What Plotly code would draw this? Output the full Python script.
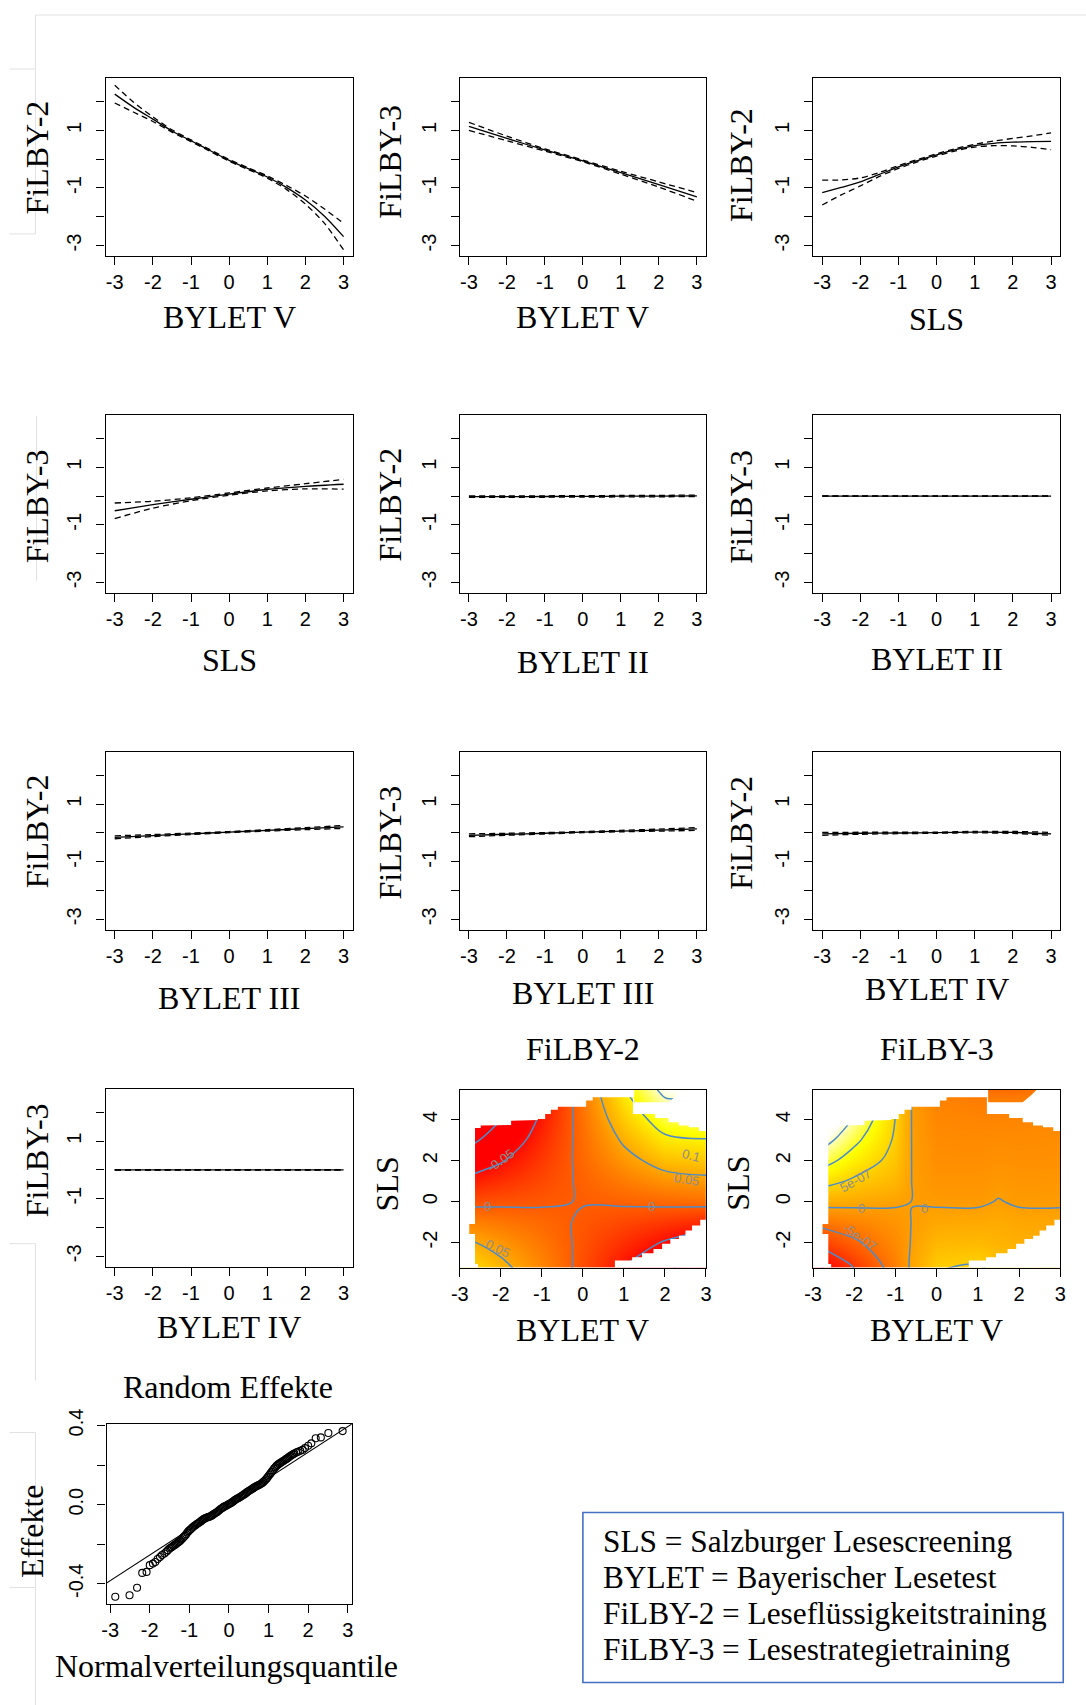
import plotly.graph_objects as go

W, H = 1086, 1705
# the page is photographed slightly scaled and offset; positions below are given in
# reference pixels and converted to paper space with this measured mapping
SX, BX = 0.9855, 8.5
SY, BY = 0.9915, 14.0

# ------------------------------------------------------------------ data
X13 = [-3, -2.5, -2, -1.5, -1, -0.5, 0, 0.5, 1, 1.5, 2, 2.5, 3]
X7 = [-3, -2, -1, 0, 1, 2, 3]

# FiLBY-2 ~ BYLET V
p1_fit = [2.26, 1.80, 1.39, 0.98, 0.64, 0.30, -0.04, -0.33, -0.62, -0.98, -1.42, -1.98, -2.69]
p1_up = [2.57, 1.97, 1.47, 1.02, 0.67, 0.33, -0.01, -0.30, -0.58, -0.91, -1.28, -1.73, -2.23]
p1_lo = [1.95, 1.63, 1.31, 0.94, 0.61, 0.27, -0.07, -0.36, -0.66, -1.05, -1.56, -2.23, -3.15]
# FiLBY-3 ~ BYLET V
p2_fit = [1.14, 0.72, 0.32, -0.06, -0.47, -0.88, -1.31]
p2_up = [1.28, 0.80, 0.36, -0.03, -0.42, -0.79, -1.16]
p2_lo = [1.00, 0.64, 0.28, -0.09, -0.52, -0.97, -1.46]
# FiLBY-2 ~ SLS
p3_fit = [-1.16, -0.98, -0.79, -0.53, -0.27, -0.05, 0.15, 0.33, 0.47, 0.55, 0.59, 0.61, 0.62]
p3_up = [-0.73, -0.72, -0.65, -0.46, -0.22, -0.01, 0.19, 0.37, 0.52, 0.63, 0.72, 0.81, 0.91]
p3_lo = [-1.59, -1.24, -0.93, -0.60, -0.32, -0.09, 0.11, 0.29, 0.42, 0.47, 0.46, 0.41, 0.33]
# FiLBY-3 ~ SLS
p4_fit = [-0.51, -0.30, -0.11, 0.07, 0.23, 0.34, 0.41]
p4_up = [-0.24, -0.18, -0.06, 0.11, 0.28, 0.43, 0.58]
p4_lo = [-0.78, -0.42, -0.16, 0.03, 0.18, 0.25, 0.24]
# FiLBY-2 ~ BYLET II
p5_fit = [-0.02, -0.02, -0.015, -0.01, -0.005, 0.0, 0.01]
p5_up = [0.005, 0.005, 0.01, 0.015, 0.02, 0.025, 0.035]
p5_lo = [-0.045, -0.045, -0.04, -0.035, -0.03, -0.025, -0.015]
# FiLBY-3 ~ BYLET II
p6_fit = [0, 0, 0, 0, 0, 0, 0]
p6_up = [0.005, 0.005, 0.005, 0.005, 0.005, 0.005, 0.005]
p6_lo = [-0.005, -0.005, -0.005, -0.005, -0.005, -0.005, -0.005]
# FiLBY-2 ~ BYLET III
p7_fit = [-0.15, -0.09, -0.03, 0.03, 0.09, 0.15, 0.21]
p7_up = [-0.10, -0.055, -0.005, 0.05, 0.115, 0.185, 0.26]
p7_lo = [-0.20, -0.125, -0.055, 0.01, 0.065, 0.115, 0.16]
# FiLBY-3 ~ BYLET III
p8_fit = [-0.08, -0.045, -0.01, 0.03, 0.065, 0.10, 0.14]
p8_up = [-0.03, -0.01, 0.015, 0.05, 0.09, 0.135, 0.19]
p8_lo = [-0.13, -0.08, -0.035, 0.01, 0.04, 0.065, 0.09]
# FiLBY-2 ~ BYLET IV
p9_fit = [-0.03, -0.01, 0.0, 0.01, 0.03, 0.02, -0.03]
p9_up = [0.02, 0.025, 0.025, 0.03, 0.055, 0.055, 0.02]
p9_lo = [-0.08, -0.045, -0.025, -0.01, 0.005, -0.015, -0.08]
# FiLBY-3 ~ BYLET IV
p10_fit = [0, 0, 0, 0, 0, 0, 0]
p10_up = [0.005, 0.005, 0.005, 0.005, 0.005, 0.005, 0.005]
p10_lo = [-0.005, -0.005, -0.005, -0.005, -0.005, -0.005, -0.005]

Y_TICKVALS = [-3, -2, -1, 0, 1, 2]
Y_TICKTEXT = ["-3", "", "-1", "", "1", ""]
X_TICKVALS = [-3, -2, -1, 0, 1, 2, 3]
X_TICKTEXT = ["-3", "-2", "-1", "0", "1", "2", "3"]

# interaction surfaces (BYLET V x SLS)
hm_y = [-4, -3, -2, -1, 0, 1, 2, 3, 4, 5, 6]
hm2_x = [-3, -2, -1, 0, 1, 2, 3]
hm2_z = [
    [0.115, 0.075, 0.035, -0.013, -0.063, -0.114, -0.165],
    [0.085, 0.055, 0.026, -0.009, -0.046, -0.084, -0.121],
    [0.058, 0.038, 0.017, -0.006, -0.030, -0.053, -0.077],
    [0.026, 0.017, 0.008, -0.003, -0.013, -0.023, -0.033],
    [-0.009, -0.006, -0.003, 0.001, 0.004, 0.008, 0.011],
    [-0.046, -0.030, -0.013, 0.004, 0.021, 0.036, 0.042],
    [-0.083, -0.053, -0.023, 0.008, 0.038, 0.064, 0.070],
    [-0.121, -0.077, -0.033, 0.011, 0.055, 0.092, 0.098],
    [-0.158, -0.100, -0.043, 0.014, 0.072, 0.120, 0.128],
    [-0.195, -0.124, -0.053, 0.018, 0.089, 0.148, 0.158],
    [-0.232, -0.148, -0.063, 0.021, 0.106, 0.176, 0.188],
]
hm3_x = [-3, -2, -1, -0.6, 0, 1, 1.5, 2, 3]
hm3_z_e7 = [   # values in units of 1e-07
    [-21.4, -12.5, -3.8, 1.0, 6.0, 7.5, 5.5, 4.5, 3.0],
    [-15.6, -9.1, -2.8, 0.6, 4.0, 4.8, 3.5, 2.8, 2.0],
    [-9.8, -5.7, -1.8, 0.2, 2.4, 2.6, 2.0, 1.6, 1.2],
    [-4.1, -2.4, -0.9, 0.05, 0.9, 1.0, 1.2, 0.8, 0.6],
    [1.7, 1.0, 0.37, -0.02, -0.35, -0.4, 0.12, -0.3, -0.25],
    [7.4, 4.3, 2.4, -0.05, -1.0, -1.0, -0.6, -0.9, -0.8],
    [13.2, 7.7, 3.6, -0.08, -1.5, -1.5, -1.2, -1.4, -1.3],
    [19.0, 11.1, 4.4, -0.1, -1.8, -1.9, -1.7, -1.8, -1.6],
    [24.7, 14.4, 4.9, -0.12, -2.2, -2.4, -2.4, -2.3, -2.0],
    [30.5, 17.8, 5.3, -0.15, -2.6, -3.2, -3.3, -3.2, -2.6],
    [36.2, 21.1, 5.7, -0.18, -3.0, -6.3, -6.6, -6.3, -3.2],
]
# contour labels as printed in the maps: (x, y, text, angle)
hm2_labels = [(-2.0, 2.0, "-0.05", -35), (2.64, 2.24, "0.1", 15), (2.53, 1.06, "0.05", 10),
              (-2.32, -0.24, "0", 0), (1.68, -0.24, "0", 0), (-2.08, -2.31, "0.05", 25)]
hm3_labels = [(-1.97, 1.02, "5e-07", -30), (-1.83, -0.33, "0", 0), (-0.29, -0.33, "0", 0),
              (-1.85, -1.74, "-5e-07", 35)]
# region too far from the data (left blank in the maps)
mask_a_x = [-3.05, -2.56, -2.56, -2.63, -2.63, -2.77, -2.77, -2.63, -2.63, -2.49, -2.49, -2.24, -2.24,
            -1.75, -1.75, -1.55, -1.55, -1.10, -1.10, -0.92, -0.92, -0.78, -0.78, -0.61, -0.61, 0.08,
            0.08, 0.24, 0.24, 1.25, 1.25, -3.05]
mask_a_y = [-3.3, -3.3, -3.04, -3.04, -1.58, -1.58, -1.09, -1.09, 3.59, 3.59, 3.71, 3.71, 3.74,
            3.74, 3.95, 3.95, 3.98, 3.98, 4.03, 4.03, 4.27, 4.27, 4.48, 4.48, 4.63, 4.63,
            4.93, 4.93, 5.09, 5.09, 5.5, 5.5]
mask_b_x = [1.22, 1.22, 1.76, 1.76, 2.09, 2.09, 2.34, 2.34, 2.58, 2.58, 2.83, 2.83, 3.05, 3.05,
            2.45, 2.30, 2.09, 1.25, 1.25]
mask_b_y = [5.09, 4.27, 4.27, 4.08, 4.08, 3.87, 3.87, 3.71, 3.71, 3.63, 3.63, 3.45, 3.45, 5.5,
            5.5, 5.2, 4.85, 4.85, 5.09]
mask_c_x = [3.05, 2.86, 2.86, 2.66, 2.66, 2.50, 2.50, 2.34, 2.34, 2.13, 2.13, 1.93, 1.93, 1.72,
            1.72, 1.44, 1.44, 1.20, 1.20, 0.78, 0.78, 3.05]
mask_c_y = [-0.89, -0.89, -1.17, -1.17, -1.41, -1.41, -1.66, -1.66, -1.82, -1.82, -2.06, -2.06,
            -2.31, -2.31, -2.52, -2.52, -2.71, -2.71, -2.87, -2.87, -3.3, -3.3]

# QQ plot of random effects
qq_x = [-2.87, -2.51, -2.32, -2.19, -2.08, -2.0, -1.92, -1.86, -1.80, -1.74, -1.69, -1.63, -1.58, -1.54, -1.50,
        -1.47, -1.44, -1.41, -1.38, -1.35, -1.32, -1.29, -1.26, -1.23, -1.20, -1.17, -1.14, -1.11, -1.08,
        -1.05, -1.02, -0.99, -0.96, -0.93, -0.90, -0.87, -0.84, -0.81, -0.78, -0.75, -0.72, -0.69, -0.66,
        -0.63, -0.60, -0.57, -0.54, -0.51, -0.48, -0.45, -0.42, -0.39, -0.36, -0.33, -0.30, -0.27, -0.24,
        -0.21, -0.18, -0.15, -0.12, -0.09, -0.06, -0.03, 0.00, 0.03, 0.06, 0.09, 0.12, 0.15, 0.18, 0.21,
        0.24, 0.27, 0.30, 0.33, 0.36, 0.39, 0.42, 0.45, 0.48, 0.51, 0.54, 0.57, 0.60, 0.63, 0.66, 0.69,
        0.72, 0.75, 0.78, 0.81, 0.84, 0.87, 0.90, 0.93, 0.96, 0.99, 1.02, 1.05, 1.08, 1.11, 1.14, 1.17,
        1.20, 1.23, 1.26, 1.29, 1.32, 1.35, 1.38, 1.41, 1.44, 1.47, 1.50, 1.53, 1.56, 1.59, 1.62, 1.65,
        1.70, 1.74, 1.80, 1.86, 1.92, 2.00, 2.08, 2.19, 2.32, 2.51, 2.87]
qq_y = [-0.466, -0.458, -0.42, -0.345, -0.34, -0.306, -0.298, -0.29, -0.275, -0.265, -0.255, -0.247, -0.238, -0.23, -0.222,
        -0.218, -0.214, -0.209, -0.205, -0.201, -0.197, -0.192, -0.187, -0.182, -0.176, -0.170, -0.163, -0.157, -0.150,
        -0.141, -0.134, -0.128, -0.123, -0.117, -0.112, -0.107, -0.103, -0.098, -0.094, -0.090, -0.086, -0.081, -0.076,
        -0.072, -0.069, -0.066, -0.064, -0.062, -0.060, -0.057, -0.053, -0.049, -0.045, -0.041, -0.037, -0.032, -0.027,
        -0.022, -0.018, -0.014, -0.010, -0.007, -0.004, -0.001, 0.003, 0.006, 0.010, 0.014, 0.018, 0.023, 0.027, 0.031,
        0.034, 0.037, 0.041, 0.045, 0.049, 0.053, 0.057, 0.062, 0.066, 0.070, 0.074, 0.078, 0.082, 0.086, 0.089, 0.093,
        0.096, 0.099, 0.102, 0.106, 0.110, 0.115, 0.121, 0.127, 0.134, 0.142, 0.150, 0.158, 0.166, 0.174, 0.182, 0.189,
        0.196, 0.201, 0.206, 0.210, 0.214, 0.218, 0.222, 0.226, 0.230, 0.234, 0.238, 0.243, 0.247, 0.251, 0.255, 0.259,
        0.264, 0.267, 0.272, 0.277, 0.286, 0.298, 0.310, 0.336, 0.340, 0.362, 0.372]
qq_intercept = 0.005
qq_slope = 0.13

legend_lines = ["SLS = Salzburger Lesescreening",
                "BYLET = Bayerischer Lesetest",
                "FiLBY-2 = Leseflüssigkeitstraining",
                "FiLBY-3 = Lesestrategietraining"]

# ------------------------------------------------------------------ layout helpers
SERIF = "Liberation Serif, Times New Roman, serif"
SANS = "Liberation Sans, Arial, sans-serif"
TICKFONT = dict(family=SANS, size=20, color="black")
TITLE_SIZE = 32

COLS = {1: (105, 352), 2: (459, 705), 3: (812, 1059)}
ROWS = {1: (77, 255), 2: (414, 592), 3: (751, 929), 4: (1088, 1266)}


def fx(t):
    return max(0.0, (t - BX) / SX / W)


def fy(t):
    return min(1.0, 1 - (t - BY) / SY / H)


def dx(a, b):
    return [fx(a), fx(b)]


def dy(top, bottom):
    return [fy(bottom), fy(top)]


def base_axis():
    return dict(showgrid=False, zeroline=False, showline=True, linecolor="black", linewidth=1.2,
                mirror=True, ticks="outside", ticklen=8, tickwidth=1.2, tickcolor="black",
                tickfont=TICKFONT, fixedrange=True, layer="above traces")


fig = go.Figure()
layout = {}
annotations = []


def ann(text, xp, yp, size=TITLE_SIZE, angle=0, xanchor="center"):
    annotations.append(dict(text=text, x=fx(xp), y=fy(yp), xref="paper", yref="paper",
                            showarrow=False, textangle=angle, xanchor=xanchor, yanchor="middle",
                            font=dict(family=SERIF, size=size, color="black")))


def ax_names(i):
    return ("x" if i == 1 else f"x{i}", "y" if i == 1 else f"y{i}",
            "xaxis" if i == 1 else f"xaxis{i}", "yaxis" if i == 1 else f"yaxis{i}")


smooth_panels = [
    (1, 1, "FiLBY-2", "BYLET V", X13, p1_fit, p1_up, p1_lo),
    (1, 2, "FiLBY-3", "BYLET V", X7, p2_fit, p2_up, p2_lo),
    (1, 3, "FiLBY-2", "SLS", X13, p3_fit, p3_up, p3_lo),
    (2, 1, "FiLBY-3", "SLS", X7, p4_fit, p4_up, p4_lo),
    (2, 2, "FiLBY-2", "BYLET II", X7, p5_fit, p5_up, p5_lo),
    (2, 3, "FiLBY-3", "BYLET II", X7, p6_fit, p6_up, p6_lo),
    (3, 1, "FiLBY-2", "BYLET III", X7, p7_fit, p7_up, p7_lo),
    (3, 2, "FiLBY-3", "BYLET III", X7, p8_fit, p8_up, p8_lo),
    (3, 3, "FiLBY-2", "BYLET IV", X7, p9_fit, p9_up, p9_lo),
    (4, 1, "FiLBY-3", "BYLET IV", X7, p10_fit, p10_up, p10_lo),
]
XLAB_Y = {(1, 1): 316, (1, 2): 316, (1, 3): 318, (2, 1): 659, (2, 2): 661, (2, 3): 658,
          (3, 1): 997, (3, 2): 992, (3, 3): 988, (4, 1): 1326}
YLAB_Y = {(1, 1): 157, (1, 2): 161, (1, 3): 164, (2, 1): 506, (2, 2): 504, (2, 3): 506,
          (3, 1): 831, (3, 2): 842, (3, 3): 832, (4, 1): 1160}
YLAB_X = {1: 36, 2: 389, 3: 740}

i = 0
for (r, c, ylab, xlab, xs, fit, up, lo) in smooth_panels:
    i += 1
    xa, ya, xk, yk = ax_names(i)
    for ys, dash in ((up, "6px,4px"), (lo, "6px,4px"), (fit, "solid")):
        fig.add_trace(go.Scatter(x=xs, y=ys, mode="lines", xaxis=xa, yaxis=ya,
                                 line=dict(color="black", width=1.3, dash=dash, shape="spline", smoothing=0.8),
                                 hoverinfo="skip", showlegend=False))
    xax = base_axis()
    xax.update(domain=dx(*COLS[c]), anchor=ya, range=[-3.24, 3.24], tickvals=X_TICKVALS, ticktext=X_TICKTEXT)
    yax = base_axis()
    yax.update(domain=dy(*ROWS[r]), anchor=xa, range=[-3.36, 2.82], tickvals=Y_TICKVALS,
               ticktext=Y_TICKTEXT, tickangle=-90, ticklabelstandoff=7)
    layout[xk] = xax
    layout[yk] = yax
    ann(xlab, sum(COLS[c]) / 2, XLAB_Y[(r, c)])
    ann(ylab, YLAB_X[c], YLAB_Y[(r, c)], angle=-90)

# ------------------------------------------------------------------ interaction maps
HEAT = [[0.0, "#FF0000"], [0.755, "#FFFF00"], [1.0, "#FFFFF5"]]
maps = [
    (2, "FiLBY-2", hm2_x, hm2_z, -0.06, 0.16, dict(start=-0.1, end=0.2, size=0.05), hm2_labels),
    (3, "FiLBY-3", hm3_x, hm3_z_e7, -15, 17, dict(start=-15, end=20, size=5), hm3_labels),
]
for (c, head, hx, hz, zmin, zmax, lev, labels) in maps:
    i += 1
    xa, ya, xk, yk = ax_names(i)
    fig.add_trace(go.Contour(x=hx, y=hm_y, z=hz, xaxis=xa, yaxis=ya, colorscale=HEAT, zmin=zmin, zmax=zmax,
                             showscale=False, hoverinfo="skip",
                             contours=dict(coloring="heatmap", showlabels=False, **lev),
                             line=dict(color="#4a8ccc", width=1.5, smoothing=1)))
    for mx, my in ((mask_a_x, mask_a_y), (mask_b_x, mask_b_y), (mask_c_x, mask_c_y)):
        fig.add_trace(go.Scatter(x=mx, y=my, mode="lines", fill="toself", fillcolor="white",
                                 line=dict(width=0, color="white"), xaxis=xa, yaxis=ya,
                                 hoverinfo="skip", showlegend=False))
    for (lx, ly, lt, la) in labels:
        annotations.append(dict(text=lt, x=lx, y=ly, xref=xa, yref=ya, showarrow=False, textangle=la,
                                font=dict(family=SANS, size=13, color="#8e8e8e")))
    xax = base_axis()
    xax.update(domain=dx(*COLS[c]), anchor=ya, range=[-3, 3], tickvals=X_TICKVALS, ticktext=X_TICKTEXT)
    yax = base_axis()
    yax.update(domain=dy(1089, 1267), anchor=xa, range=[-3.22, 5.46], tickvals=[-2, 0, 2, 4],
               ticktext=["-2", "0", "2", "4"], tickangle=-90, ticklabelstandoff=6)
    layout[xk] = xax
    layout[yk] = yax
    ann(head, sum(COLS[c]) / 2, 1048)
    ann("BYLET V", sum(COLS[c]) / 2, 1329)
    ann("SLS", YLAB_X[c] - 3, 1183, angle=-90)

# ------------------------------------------------------------------ QQ plot
i += 1
xa, ya, xk, yk = ax_names(i)
line_x = [-4, 4]
fig.add_trace(go.Scatter(x=line_x, y=[qq_intercept + qq_slope * v for v in line_x], mode="lines",
                         line=dict(color="black", width=1.1), xaxis=xa, yaxis=ya, hoverinfo="skip",
                         showlegend=False))
fig.add_trace(go.Scatter(x=qq_x, y=qq_y, mode="markers", xaxis=xa, yaxis=ya, hoverinfo="skip",
                         marker=dict(symbol="circle-open", size=7, color="black", line=dict(width=1.1)),
                         showlegend=False))
xax = base_axis()
xax.update(domain=dx(106, 351), anchor=ya, range=[-3.09, 3.10], tickvals=X_TICKVALS, ticktext=X_TICKTEXT)
yax = base_axis()
yax.update(domain=dy(1423, 1603), anchor=xa, range=[-0.5, 0.41], tickvals=[-0.4, -0.2, 0.0, 0.2, 0.4],
           ticktext=["-0.4", "", "0.0", "", "0.4"], tickangle=-90, ticklabelstandoff=6)
layout[xk] = xax
layout[yk] = yax
ann("Random Effekte", 227, 1386)
ann("Normalverteilungsquantile", 226, 1665)
ann("Effekte", 31, 1531, angle=-90)

# ------------------------------------------------------------------ legend box
for k, txt in enumerate(legend_lines):
    ann(txt, 600, 1541 + 36 * k, size=31.3, xanchor="left")

shapes = [
    dict(type="rect", xref="paper", yref="paper", x0=fx(582), x1=fx(1062), y0=fy(1682), y1=fy(1512),
         line=dict(color="#4472C4", width=1.6), fillcolor="rgba(0,0,0,0)", layer="below"),
]
# faint page-border lines of the source screenshot
for (x0, y0, x1, y1) in [(35, 14, 1086, 14), (35, 14, 35, 70), (9, 68, 35, 68), (35, 68, 35, 233),
                         (9, 233, 35, 233), (36, 415, 36, 580), (9, 1432, 35, 1432), (35, 1432, 35, 1587),
                         (9, 1587, 35, 1587), (35, 1587, 35, 1705), (9, 1243, 35, 1243), (35, 1243, 35, 1380)]:
    shapes.append(dict(type="line", xref="paper", yref="paper", x0=fx(x0), x1=fx(x1), y0=fy(y0),
                       y1=fy(y1), line=dict(color="#e2e2e2", width=1), layer="below"))

fig.update_layout(width=W, height=H, margin=dict(l=0, r=0, t=0, b=0), paper_bgcolor="white",
                  plot_bgcolor="white", showlegend=False, annotations=annotations, shapes=shapes, **layout)

fig.write_html("out.html")
